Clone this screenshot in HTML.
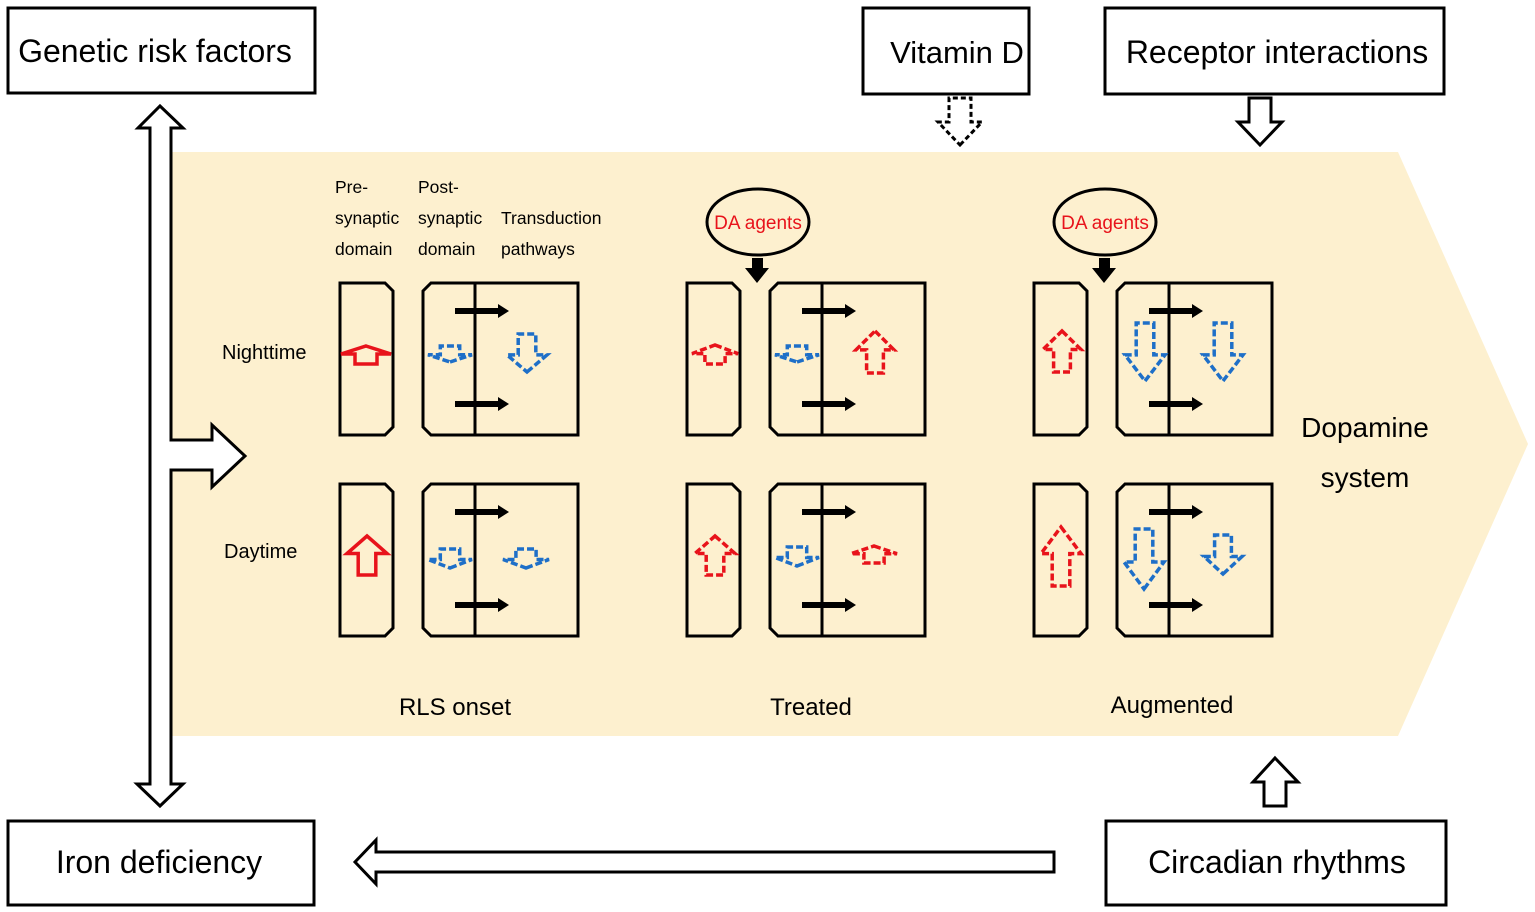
<!DOCTYPE html>
<html><head><meta charset="utf-8"><style>
html,body{margin:0;padding:0;background:#fff}
svg{display:block}
text{font-family:"Liberation Sans",Arial,sans-serif}
</style></head><body>
<svg width="1535" height="912" viewBox="0 0 1535 912" xmlns="http://www.w3.org/2000/svg">
<polygon points="172,152 1398,152 1528,444 1398,736 172,736" fill="#fdf0cf"/>
<g fill="#fff" stroke="#000" stroke-width="3">
<rect x="8" y="8" width="307" height="85"/>
<rect x="863" y="8" width="166" height="86"/>
<rect x="1105" y="8" width="339" height="86"/>
<rect x="8" y="821" width="306" height="84"/>
<rect x="1106" y="821" width="340" height="84"/>
</g>
<g font-size="32" text-anchor="middle" fill="#000">
<text x="155" y="62">Genetic risk factors</text>
<text x="957" y="63" font-size="31">Vitamin D</text>
<text x="1277" y="63">Receptor interactions</text>
<text x="159" y="873">Iron deficiency</text>
<text x="1277" y="873">Circadian rhythms</text>
</g>
<g fill="#fff" stroke="#000" stroke-width="3">
<polygon points="160,106 183,128 171,128 171,440 212,440 212,425 245,456 212,487 212,470 171,470 171,784 183,784 160,806 137,784 150,784 150,128 138,128"/>
<polygon points="1054,852 376,852 376,840 355,862 376,884 376,872 1054,872"/>
<polygon points="1275,758 1298,782 1286,782 1286,806 1264,806 1264,782 1253,782"/>
<polygon points="1260,145 1282,122 1271,122 1271,98 1249,98 1249,122 1238,122"/>
<polygon points="960,145 982,122 971,122 971,98 949,98 949,122 938,122" stroke-dasharray="5,3"/>
</g>
<g fill="none" stroke="#000" stroke-width="3">
<g id="grp">
<path d="M340,283 H385 L393,291 V427 L385,435 H340 Z"/>
<path d="M431,283 H578 V435 H431 L423,427 V291 Z"/>
<line x1="475" y1="283" x2="475" y2="435"/>
<path d="M340,484 H385 L393,492 V628 L385,636 H340 Z"/>
<path d="M431,484 H578 V636 H431 L423,628 V492 Z"/>
<line x1="475" y1="484" x2="475" y2="636"/>
</g>
<use href="#grp" transform="translate(347,0)"/>
<use href="#grp" transform="translate(694,0)"/>
</g>
<g fill="#000" id="ha">
<polygon points="455,308 498,308 498,304 509,311 498,318 498,314 455,314"/>
<polygon points="455,401 498,401 498,397 509,404 498,411 498,407 455,407"/>
<polygon points="455,509 498,509 498,505 509,512 498,519 498,515 455,515"/>
<polygon points="455,602 498,602 498,598 509,605 498,612 498,608 455,608"/>
</g>
<use href="#ha" transform="translate(347,0)"/>
<use href="#ha" transform="translate(694,0)"/>
<g fill="none" stroke-width="3.5">
<g stroke="#e8131b">
<polygon points="366,346 391,354 377,354 377,364 355,364 355,354 341,354"/>
<polygon points="367,536 387,553.5 375.8,553.5 375.8,575 358.2,575 358.2,553.5 347,553.5"/>
</g>
<g stroke="#1e6fc8" stroke-dasharray="7,3">
<polygon points="450,362 472,354.8 459.7,354.8 459.7,346 440.3,346 440.3,354.8 428,354.8"/>
<polygon points="527,372 547,354.9 535.8,354.9 535.8,334 518.2,334 518.2,354.9 507,354.9"/>
<polygon points="450,568 472,559.5 459.7,559.5 459.7,549 440.3,549 440.3,559.5 428,559.5"/>
<polygon points="526,568 549,559.5 536.1,559.5 536.1,549 515.9,549 515.9,559.5 503,559.5"/>
<polygon points="797,362 819,354.8 806.7,354.8 806.7,346 787.3,346 787.3,354.8 775,354.8"/>
<polygon points="797,566 819,557.5 806.7,557.5 806.7,547 787.3,547 787.3,557.5 775,557.5"/>
<polygon points="1145,381 1165,354.9 1153.8,354.9 1153.8,323 1136.2,323 1136.2,354.9 1125,354.9"/>
<polygon points="1223,381 1243,354.9 1231.8,354.9 1231.8,323 1214.2,323 1214.2,354.9 1203,354.9"/>
<polygon points="1144,589 1164,562 1152.8,562 1152.8,529 1135.2,529 1135.2,562 1124,562"/>
<polygon points="1223,574 1242,556.5 1231.4,556.5 1231.4,535 1214.6,535 1214.6,556.5 1204,556.5"/>
</g>
<g stroke="#e8131b" stroke-dasharray="7,3">
<polygon points="715,345 738,353.6 725.1,353.6 725.1,364 704.9,364 704.9,353.6 692,353.6"/>
<polygon points="875,331 894,349.9 883.4,349.9 883.4,373 866.6,373 866.6,349.9 856,349.9"/>
<polygon points="715,536 735,553.5 723.8,553.5 723.8,575 706.2,575 706.2,553.5 695,553.5"/>
<polygon points="874,546 897,553.7 884.1,553.7 884.1,563 863.9,563 863.9,553.7 851,553.7"/>
<polygon points="1062,331 1081,349.5 1070.4,349.5 1070.4,372 1053.6,372 1053.6,349.5 1043,349.5"/>
<polygon points="1061,527 1081,553.6 1069.8,553.6 1069.8,586 1052.2,586 1052.2,553.6 1041,553.6"/>
</g>
</g>
<g fill="none" stroke="#000" stroke-width="3">
<ellipse cx="758" cy="222" rx="51" ry="33"/>
<ellipse cx="1105" cy="222" rx="51" ry="33"/>
</g>
<g fill="#e8131b" font-size="19" text-anchor="middle">
<text x="758" y="229">DA agents</text>
<text x="1105" y="229">DA agents</text>
</g>
<g fill="#000">
<polygon points="752,258 763,258 763,268 769,268 757,283 745,268 752,268"/>
<polygon points="1099,258 1110,258 1110,268 1116,268 1104,283 1092,268 1099,268"/>
</g>
<g font-size="17.5" fill="#000">
<text x="335" y="193">Pre-</text>
<text x="335" y="224">synaptic</text>
<text x="335" y="255">domain</text>
<text x="418" y="193">Post-</text>
<text x="418" y="224">synaptic</text>
<text x="418" y="255">domain</text>
<text x="501" y="224">Transduction</text>
<text x="501" y="255">pathways</text>
</g>
<g font-size="20" fill="#000">
<text x="222" y="359">Nighttime</text>
<text x="224" y="558">Daytime</text>
</g>
<g font-size="24" fill="#000" text-anchor="middle">
<text x="455" y="715">RLS onset</text>
<text x="811" y="715">Treated</text>
<text x="1172" y="713">Augmented</text>
</g>
<g font-size="28" fill="#000" text-anchor="middle">
<text x="1365" y="437">Dopamine</text>
<text x="1365" y="487">system</text>
</g>
</svg>
</body></html>
